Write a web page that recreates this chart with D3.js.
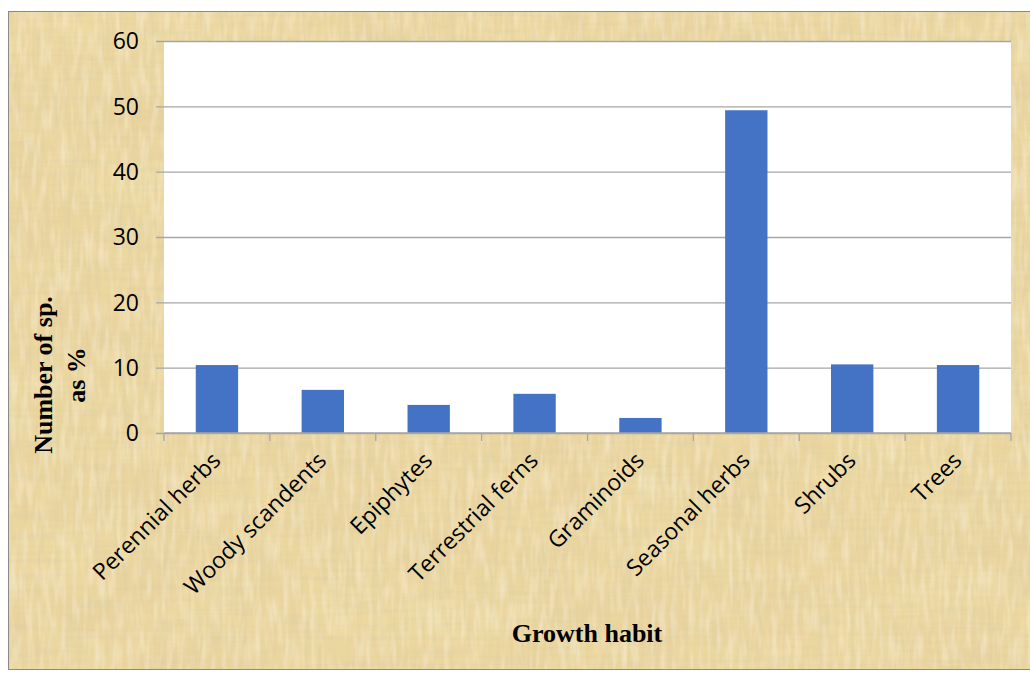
<!DOCTYPE html>
<html>
<head>
<meta charset="utf-8">
<script src="https://cdn.jsdelivr.net/npm/d3@7"></script>
<style>
  html, body { margin: 0; padding: 0; background: #ffffff; }
  svg { display: block; }
</style>
</head>
<body>
<div id="chart"></div>
<script>
// Share of species (%) by growth habit
const categories = ["Perennial herbs", "Woody scandents", "Epiphytes", "Terrestrial ferns",
                    "Graminoids", "Seasonal herbs", "Shrubs", "Trees"];
const percentValues = [10.4, 6.6, 4.3, 6.0, 2.3, 49.4, 10.5, 10.4];
const yTickValues = [0, 10, 20, 30, 40, 50, 60];

const W = 1030, H = 673;
const plot = { left: 164, right: 1011, top: 41, bottom: 433 };

const svg = d3.select("#chart").append("svg")
  .attr("width", W).attr("height", H);

// Papyrus-like backdrop: base tone plus crossing fibre noise
const defs = svg.append("defs");

function fibreFilter(id, freq, seed, matrix) {
  const f = defs.append("filter").attr("id", id)
    .attr("x", 0).attr("y", 0).attr("width", "100%").attr("height", "100%");
  f.append("feTurbulence").attr("type", "fractalNoise")
    .attr("baseFrequency", freq).attr("numOctaves", 2).attr("seed", seed);
  f.append("feColorMatrix").attr("type", "matrix").attr("values", matrix);
}
// vertical and horizontal fibres, soft tan strokes
fibreFilter("fibreV", "0.22 0.015", 3,
  "0 0 0 0 0.70  0 0 0 0 0.60  0 0 0 0 0.36  0.85 0 0 0 -0.34");
fibreFilter("fibreH", "0.015 0.22", 7,
  "0 0 0 0 0.70  0 0 0 0 0.60  0 0 0 0 0.36  0.85 0 0 0 -0.34");
// light fibres
fibreFilter("fibreL", "0.18 0.03", 11,
  "0 0 0 0 0.99  0 0 0 0 0.93  0 0 0 0 0.80  0.9 0 0 0 -0.38");
// broad blotches
fibreFilter("blotch", "0.01 0.014", 5,
  "0 0 0 0 0.88  0 0 0 0 0.74  0 0 0 0 0.38  0.9 0 0 0 -0.3");

const frame = { x: 8, y: 11, w: W - 8 + 5, h: 658 };
const bg = svg.append("g");
bg.append("rect").attr("x", frame.x).attr("y", frame.y)
  .attr("width", frame.w).attr("height", frame.h).attr("fill", "#ebd59e");
["blotch", "fibreV", "fibreH", "fibreL"].forEach(id => {
  bg.append("rect").attr("x", frame.x).attr("y", frame.y)
    .attr("width", frame.w).attr("height", frame.h)
    .attr("filter", `url(#${id})`);
});
bg.append("rect").attr("x", frame.x + 0.5).attr("y", frame.y + 0.5)
  .attr("width", frame.w).attr("height", frame.h)
  .attr("fill", "none").attr("stroke", "#8a8a8a").attr("stroke-width", 1);

// Scales
const x = d3.scaleBand().domain(categories)
  .range([plot.left, plot.right]).paddingInner(0.6).paddingOuter(0.3);
const y = d3.scaleLinear().domain([0, 60]).range([plot.bottom, plot.top]);

// Plot area
svg.append("rect").attr("x", plot.left).attr("y", plot.top)
  .attr("width", plot.right - plot.left).attr("height", plot.bottom - plot.top)
  .attr("fill", "#ffffff");

// Gridlines with outside tick marks
const yAxis = d3.axisLeft(y).tickValues(yTickValues)
  .tickSize(-(plot.right - plot.left)).tickPadding(0).tickFormat("");
const gy = svg.append("g").attr("transform", `translate(${plot.left},0)`).call(yAxis);
gy.select(".domain").remove();
gy.selectAll(".tick line").attr("x1", -8).attr("stroke", "#a6a6a6").attr("stroke-width", 1.3);

// Y tick labels
svg.append("g").selectAll("text").data(yTickValues).join("text")
  .attr("x", 139).attr("y", d => y(d))
  .attr("dy", "0.36em")
  .attr("text-anchor", "end")
  .attr("font-family", "'Open Sans', sans-serif")
  .attr("font-size", 23)
  .attr("fill", "#000")
  .text(d => d);

// Bars
svg.append("g").selectAll("rect").data(categories).join("rect")
  .attr("x", d => x(d))
  .attr("y", (d, i) => y(percentValues[i]))
  .attr("width", x.bandwidth())
  .attr("height", (d, i) => y(0) - y(percentValues[i]))
  .attr("fill", "#4472c4");

// Category axis line and boundary ticks
const step = x.step();
const firstEdge = x(categories[0]) - step * 0.3;
const edges = d3.range(categories.length + 1).map(i => firstEdge + i * step);
svg.append("line").attr("x1", plot.left).attr("x2", plot.right)
  .attr("y1", y(0)).attr("y2", y(0))
  .attr("stroke", "#a6a6a6").attr("stroke-width", 1.5);
svg.append("g").selectAll("line").data(edges).join("line")
  .attr("x1", d => d).attr("x2", d => d)
  .attr("y1", y(0)).attr("y2", y(0) + 8)
  .attr("stroke", "#a6a6a6").attr("stroke-width", 1.3);

// Rotated category labels
svg.append("g").selectAll("text").data(categories).join("text")
  .attr("transform", d => `translate(${x(d) + x.bandwidth() / 2 + 5},${462}) rotate(-45)`)
  .attr("text-anchor", "end")
  .attr("font-family", "'Open Sans', sans-serif")
  .attr("font-size", 23)
  .attr("fill", "#000")
  .text(d => d);

// Axis titles
svg.append("text")
  .attr("x", 587).attr("y", 642)
  .attr("text-anchor", "middle")
  .attr("font-family", "'Liberation Serif', 'Times New Roman', serif")
  .attr("font-weight", "bold")
  .attr("font-size", 26)
  .attr("fill", "#000")
  .text("Growth habit");

const yTitle = svg.append("text")
  .attr("transform", "translate(52,375) rotate(-90)")
  .attr("text-anchor", "middle")
  .attr("font-family", "'Liberation Serif', 'Times New Roman', serif")
  .attr("font-weight", "bold")
  .attr("font-size", 26)
  .attr("fill", "#000");
yTitle.append("tspan").attr("x", 0).attr("dy", 0).text("Number of sp.");
yTitle.append("tspan").attr("x", 0).attr("dy", 33).text("as %");
</script>
</body>
</html>
